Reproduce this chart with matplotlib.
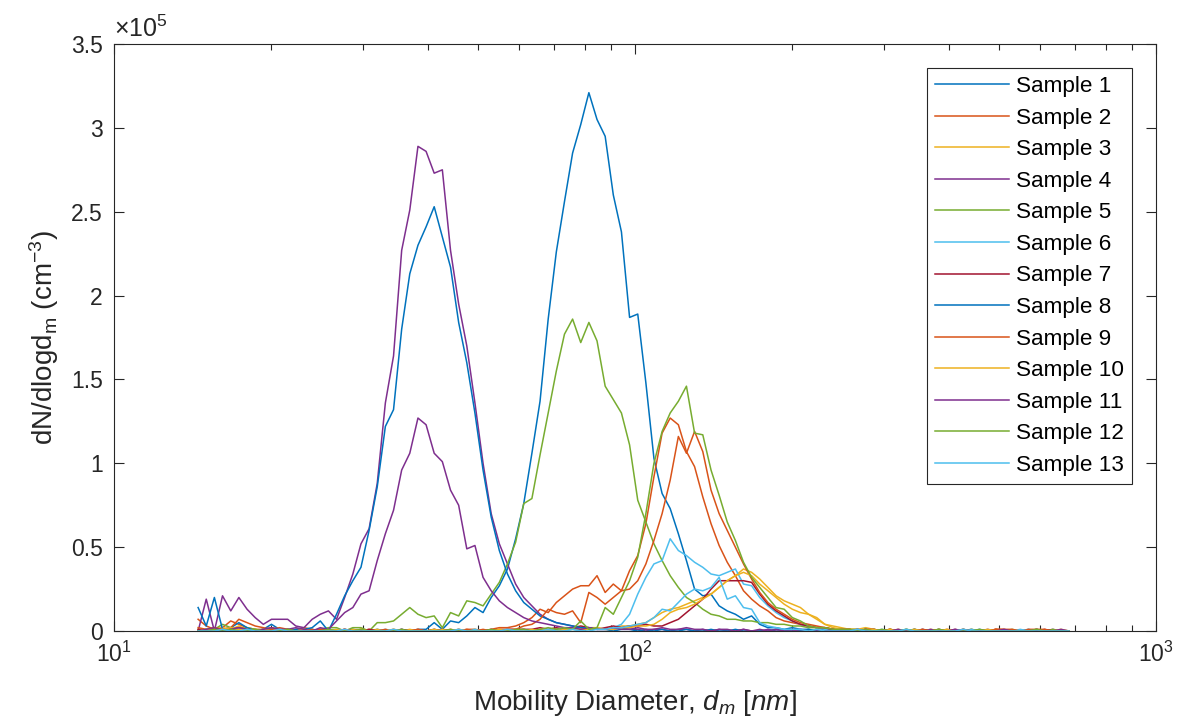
import matplotlib.pyplot as plt
from matplotlib.ticker import FuncFormatter, MultipleLocator

plt.rcParams['font.family'] = ['Liberation Sans', 'DejaVu Sans']
plt.rcParams['mathtext.fontset'] = 'custom'
plt.rcParams['mathtext.rm'] = 'Liberation Sans'
plt.rcParams['mathtext.it'] = 'Liberation Sans:italic'

##-------------- SMPS channel diameters (nm), 64 ch/decade --------------
dm = [14.50, 15.03, 15.58, 16.15, 16.75, 17.36, 18.00, 18.66, 19.34, 20.05,
      20.78, 21.54, 22.33, 23.15, 24.00, 24.88, 25.79, 26.73, 27.71, 28.73,
      29.78, 30.87, 32.00, 33.17, 34.39, 35.65, 36.95, 38.31, 39.71, 41.16,
      42.67, 44.24, 45.86, 47.54, 49.28, 51.08, 52.95, 54.89, 56.90, 58.99,
      61.15, 63.39, 65.71, 68.12, 70.61, 73.20, 75.88, 78.66, 81.54, 84.53,
      87.63, 90.84, 94.16, 97.61, 101.2, 104.9, 108.7, 112.7, 116.8, 121.1,
      125.5, 130.1, 134.9, 139.9, 145.0, 150.3, 155.8, 161.5, 167.4, 173.5,
      179.9, 186.5, 193.3, 200.4, 207.7, 215.3, 223.2, 231.4, 239.9, 248.7,
      257.8, 267.2, 277.0, 287.2, 297.7, 308.6, 319.9, 331.6, 343.8, 356.4,
      369.4, 382.9, 397.0, 411.5, 426.6, 442.2, 458.4, 475.2, 492.6, 510.7,
      529.4, 548.8, 568.9, 589.7, 611.3, 633.7, 656.9, 681.0]

##-------------- dN/dlogdm, units of 1e5 cm^-3 --------------
s1 = [0.00, 0.01, 0.00, 0.01, 0.00, 0.00, 0.01, 0.00, 0.00, 0.01,
      0.00, 0.01, 0.00, 0.00, 0.01, 0.00, 0.01, 0.00, 0.00, 0.01,
      0.00, 0.00, 0.01, 0.00, 0.00, 0.01, 0.00, 0.01, 0.01, 0.05,
      0.01, 0.06, 0.05, 0.09, 0.14, 0.11, 0.20, 0.27, 0.37, 0.55,
      0.76, 1.06, 1.37, 1.86, 2.26, 2.56, 2.85, 3.02, 3.21, 3.05,
      2.95, 2.60, 2.38, 1.87, 1.89, 1.48, 1.03, 0.82, 0.73, 0.58,
      0.42, 0.25, 0.21, 0.22, 0.15, 0.12, 0.10, 0.07, 0.09, 0.04,
      0.02, 0.02, 0.01, 0.02, 0.01, 0.01, 0.00, 0.01, 0.00, 0.00,
      0.01, 0.00, 0.00, 0.01, 0.00, 0.00, 0.00, 0.01, 0.00, 0.00,
      0.00, 0.01, 0.00, 0.00, 0.00, 0.00, 0.01, 0.00, 0.00, 0.00,
      0.00, 0.00, 0.01, 0.00, 0.00, 0.00, 0.00, 0.00]
s2 = [0.07, 0.03, 0.01, 0.02, 0.06, 0.04, 0.02, 0.01, 0.01, 0.02,
      0.01, 0.00, 0.01, 0.02, 0.01, 0.00, 0.01, 0.00, 0.01, 0.00,
      0.00, 0.01, 0.00, 0.00, 0.01, 0.00, 0.00, 0.01, 0.00, 0.00,
      0.01, 0.00, 0.00, 0.01, 0.01, 0.00, 0.01, 0.02, 0.02, 0.03,
      0.05, 0.08, 0.13, 0.11, 0.17, 0.21, 0.25, 0.27, 0.27, 0.33,
      0.23, 0.28, 0.24, 0.36, 0.45, 0.64, 0.92, 1.18, 1.27, 1.23,
      1.07, 0.98, 0.80, 0.64, 0.51, 0.41, 0.33, 0.24, 0.19, 0.15,
      0.12, 0.08, 0.06, 0.05, 0.04, 0.03, 0.02, 0.02, 0.01, 0.01,
      0.01, 0.00, 0.01, 0.00, 0.00, 0.01, 0.00, 0.00, 0.01, 0.00,
      0.00, 0.00, 0.01, 0.00, 0.00, 0.01, 0.00, 0.00, 0.01, 0.01,
      0.00, 0.00, 0.01, 0.01, 0.00, 0.00, 0.00, 0.00]
s3 = [0.01, 0.00, 0.01, 0.02, 0.01, 0.03, 0.01, 0.01, 0.00, 0.01,
      0.00, 0.01, 0.00, 0.01, 0.00, 0.00, 0.01, 0.00, 0.00, 0.01,
      0.00, 0.00, 0.01, 0.00, 0.00, 0.00, 0.01, 0.00, 0.00, 0.00,
      0.01, 0.00, 0.00, 0.00, 0.01, 0.00, 0.00, 0.01, 0.00, 0.00,
      0.01, 0.00, 0.01, 0.00, 0.01, 0.01, 0.02, 0.01, 0.02, 0.02,
      0.01, 0.02, 0.03, 0.03, 0.04, 0.05, 0.08, 0.11, 0.13, 0.14,
      0.16, 0.18, 0.20, 0.22, 0.26, 0.30, 0.33, 0.37, 0.35, 0.31,
      0.26, 0.21, 0.18, 0.16, 0.14, 0.10, 0.07, 0.04, 0.03, 0.02,
      0.01, 0.01, 0.02, 0.01, 0.00, 0.01, 0.00, 0.01, 0.00, 0.00,
      0.01, 0.00, 0.00, 0.00, 0.01, 0.00, 0.00, 0.00, 0.01, 0.00,
      0.00, 0.00, 0.00, 0.01, 0.00, 0.00, 0.00, 0.00]
s4 = [0.00, 0.19, 0.00, 0.21, 0.12, 0.20, 0.13, 0.08, 0.04, 0.07,
      0.07, 0.07, 0.03, 0.02, 0.07, 0.10, 0.12, 0.07, 0.20, 0.34,
      0.52, 0.61, 0.88, 1.36, 1.64, 2.27, 2.51, 2.89, 2.86, 2.73,
      2.75, 2.27, 1.95, 1.70, 1.36, 1.00, 0.70, 0.52, 0.40, 0.28,
      0.20, 0.15, 0.10, 0.07, 0.05, 0.04, 0.03, 0.02, 0.02, 0.01,
      0.01, 0.01, 0.02, 0.01, 0.01, 0.00, 0.01, 0.01, 0.00, 0.01,
      0.01, 0.00, 0.01, 0.00, 0.01, 0.00, 0.00, 0.01, 0.00, 0.00,
      0.01, 0.00, 0.00, 0.01, 0.00, 0.00, 0.00, 0.00, 0.01, 0.00,
      0.00, 0.00, 0.00, 0.01, 0.00, 0.00, 0.00, 0.00, 0.00, 0.00,
      0.01, 0.00, 0.00, 0.00, 0.00, 0.00, 0.00, 0.01, 0.00, 0.00,
      0.00, 0.00, 0.00, 0.00, 0.00, 0.01, 0.00, 0.00]
s5 = [0.00, 0.01, 0.01, 0.04, 0.02, 0.01, 0.02, 0.01, 0.00, 0.01,
      0.00, 0.01, 0.00, 0.01, 0.00, 0.01, 0.02, 0.02, 0.00, 0.02,
      0.02, 0.00, 0.05, 0.05, 0.06, 0.10, 0.14, 0.10, 0.08, 0.09,
      0.02, 0.11, 0.09, 0.18, 0.17, 0.15, 0.22, 0.29, 0.40, 0.53,
      0.76, 0.79, 1.05, 1.30, 1.55, 1.77, 1.86, 1.72, 1.84, 1.73,
      1.46, 1.38, 1.30, 1.11, 0.78, 0.65, 0.52, 0.42, 0.33, 0.26,
      0.20, 0.17, 0.13, 0.10, 0.09, 0.07, 0.07, 0.06, 0.06, 0.05,
      0.05, 0.04, 0.04, 0.03, 0.03, 0.02, 0.02, 0.02, 0.01, 0.01,
      0.01, 0.01, 0.00, 0.01, 0.00, 0.01, 0.00, 0.00, 0.01, 0.00,
      0.00, 0.01, 0.00, 0.00, 0.00, 0.01, 0.00, 0.00, 0.00, 0.00,
      0.01, 0.00, 0.00, 0.00, 0.00, 0.01, 0.00, 0.00]
s6 = [0.00, 0.01, 0.00, 0.00, 0.01, 0.00, 0.00, 0.00, 0.01, 0.00,
      0.00, 0.00, 0.01, 0.00, 0.00, 0.00, 0.00, 0.01, 0.00, 0.00,
      0.00, 0.00, 0.00, 0.01, 0.00, 0.00, 0.00, 0.00, 0.00, 0.01,
      0.00, 0.00, 0.00, 0.00, 0.01, 0.00, 0.00, 0.00, 0.00, 0.00,
      0.01, 0.00, 0.00, 0.00, 0.01, 0.00, 0.01, 0.00, 0.01, 0.01,
      0.01, 0.02, 0.04, 0.10, 0.22, 0.32, 0.40, 0.42, 0.55, 0.48,
      0.45, 0.41, 0.38, 0.34, 0.33, 0.35, 0.37, 0.28, 0.27, 0.20,
      0.15, 0.11, 0.08, 0.06, 0.04, 0.03, 0.02, 0.01, 0.01, 0.01,
      0.00, 0.01, 0.00, 0.00, 0.01, 0.00, 0.00, 0.00, 0.00, 0.01,
      0.00, 0.00, 0.00, 0.00, 0.00, 0.01, 0.00, 0.00, 0.00, 0.00,
      0.00, 0.01, 0.00, 0.00, 0.00, 0.00, 0.00, 0.00]
s7 = [0.01, 0.00, 0.01, 0.00, 0.01, 0.02, 0.01, 0.00, 0.01, 0.00,
      0.01, 0.00, 0.00, 0.01, 0.00, 0.01, 0.00, 0.00, 0.01, 0.00,
      0.00, 0.01, 0.00, 0.00, 0.00, 0.01, 0.00, 0.00, 0.00, 0.01,
      0.00, 0.00, 0.01, 0.00, 0.00, 0.00, 0.01, 0.00, 0.01, 0.01,
      0.01, 0.01, 0.02, 0.01, 0.02, 0.01, 0.02, 0.03, 0.02, 0.01,
      0.02, 0.03, 0.02, 0.03, 0.03, 0.04, 0.03, 0.03, 0.05, 0.07,
      0.11, 0.15, 0.19, 0.25, 0.30, 0.30, 0.30, 0.30, 0.29, 0.22,
      0.16, 0.12, 0.09, 0.06, 0.04, 0.03, 0.02, 0.02, 0.01, 0.01,
      0.01, 0.00, 0.01, 0.00, 0.00, 0.01, 0.00, 0.00, 0.00, 0.01,
      0.00, 0.00, 0.00, 0.01, 0.00, 0.00, 0.00, 0.00, 0.01, 0.00,
      0.00, 0.00, 0.00, 0.00, 0.01, 0.00, 0.00, 0.00]
s8 = [0.14, 0.03, 0.20, 0.01, 0.02, 0.05, 0.02, 0.00, 0.01, 0.04,
      0.01, 0.00, 0.01, 0.01, 0.02, 0.06, 0.00, 0.10, 0.21, 0.30,
      0.38, 0.60, 0.86, 1.22, 1.32, 1.80, 2.13, 2.30, 2.41, 2.53,
      2.35, 2.17, 1.84, 1.60, 1.30, 0.96, 0.68, 0.48, 0.34, 0.24,
      0.17, 0.13, 0.09, 0.07, 0.05, 0.04, 0.03, 0.02, 0.02, 0.01,
      0.01, 0.00, 0.01, 0.01, 0.00, 0.01, 0.00, 0.01, 0.00, 0.00,
      0.01, 0.00, 0.00, 0.01, 0.00, 0.00, 0.01, 0.00, 0.00, 0.00,
      0.00, 0.01, 0.00, 0.00, 0.00, 0.01, 0.00, 0.00, 0.00, 0.00,
      0.00, 0.00, 0.01, 0.00, 0.00, 0.00, 0.00, 0.00, 0.01, 0.00,
      0.00, 0.00, 0.00, 0.00, 0.01, 0.00, 0.00, 0.00, 0.00, 0.00,
      0.00, 0.00, 0.00, 0.01, 0.00, 0.00, 0.00, 0.00]
s9 = [0.02, 0.01, 0.02, 0.01, 0.02, 0.07, 0.05, 0.03, 0.02, 0.01,
      0.02, 0.01, 0.00, 0.01, 0.00, 0.01, 0.00, 0.00, 0.01, 0.00,
      0.01, 0.00, 0.00, 0.01, 0.00, 0.00, 0.00, 0.01, 0.00, 0.00,
      0.00, 0.01, 0.00, 0.01, 0.00, 0.01, 0.00, 0.01, 0.01, 0.01,
      0.03, 0.04, 0.07, 0.13, 0.11, 0.10, 0.12, 0.05, 0.23, 0.20,
      0.16, 0.20, 0.24, 0.25, 0.30, 0.40, 0.54, 0.70, 0.90, 1.16,
      1.06, 1.19, 1.07, 0.84, 0.70, 0.60, 0.50, 0.40, 0.31, 0.23,
      0.17, 0.13, 0.10, 0.07, 0.05, 0.04, 0.03, 0.02, 0.01, 0.01,
      0.01, 0.00, 0.01, 0.01, 0.00, 0.00, 0.01, 0.00, 0.00, 0.01,
      0.00, 0.01, 0.00, 0.00, 0.01, 0.00, 0.00, 0.00, 0.01, 0.01,
      0.01, 0.00, 0.00, 0.01, 0.01, 0.00, 0.00, 0.00]
s10 = [0.00, 0.01, 0.00, 0.01, 0.02, 0.01, 0.01, 0.00, 0.01, 0.00,
       0.01, 0.00, 0.00, 0.01, 0.00, 0.00, 0.00, 0.01, 0.00, 0.00,
       0.01, 0.00, 0.00, 0.00, 0.01, 0.00, 0.00, 0.00, 0.00, 0.01,
       0.00, 0.00, 0.01, 0.00, 0.00, 0.00, 0.00, 0.01, 0.00, 0.00,
       0.00, 0.01, 0.00, 0.01, 0.00, 0.01, 0.01, 0.01, 0.01, 0.02,
       0.01, 0.01, 0.02, 0.02, 0.03, 0.03, 0.04, 0.07, 0.11, 0.13,
       0.14, 0.16, 0.19, 0.22, 0.26, 0.30, 0.33, 0.35, 0.33, 0.28,
       0.24, 0.20, 0.16, 0.13, 0.11, 0.10, 0.08, 0.04, 0.02, 0.01,
       0.01, 0.01, 0.00, 0.01, 0.00, 0.01, 0.00, 0.00, 0.01, 0.00,
       0.00, 0.00, 0.01, 0.00, 0.00, 0.00, 0.00, 0.01, 0.00, 0.00,
       0.00, 0.00, 0.00, 0.00, 0.00, 0.00, 0.01, 0.00]
s11 = [0.00, 0.01, 0.02, 0.00, 0.01, 0.02, 0.01, 0.00, 0.01, 0.02,
       0.01, 0.01, 0.02, 0.01, 0.00, 0.02, 0.01, 0.06, 0.11, 0.14,
       0.22, 0.24, 0.42, 0.58, 0.72, 0.96, 1.06, 1.27, 1.23, 1.06,
       1.01, 0.84, 0.75, 0.49, 0.51, 0.32, 0.24, 0.18, 0.14, 0.11,
       0.08, 0.06, 0.05, 0.04, 0.03, 0.02, 0.02, 0.01, 0.02, 0.01,
       0.01, 0.02, 0.01, 0.01, 0.02, 0.01, 0.01, 0.02, 0.01, 0.01,
       0.02, 0.01, 0.01, 0.00, 0.01, 0.01, 0.00, 0.01, 0.00, 0.01,
       0.00, 0.01, 0.00, 0.00, 0.01, 0.00, 0.00, 0.00, 0.01, 0.00,
       0.00, 0.01, 0.00, 0.00, 0.00, 0.00, 0.01, 0.00, 0.00, 0.00,
       0.00, 0.00, 0.00, 0.01, 0.00, 0.00, 0.00, 0.00, 0.00, 0.01,
       0.00, 0.00, 0.00, 0.00, 0.00, 0.00, 0.01, 0.00]
s12 = [0.00, 0.00, 0.01, 0.00, 0.01, 0.00, 0.00, 0.01, 0.00, 0.00,
       0.00, 0.01, 0.00, 0.00, 0.00, 0.00, 0.01, 0.00, 0.00, 0.00,
       0.01, 0.00, 0.00, 0.00, 0.00, 0.01, 0.00, 0.00, 0.00, 0.00,
       0.00, 0.01, 0.00, 0.00, 0.00, 0.00, 0.01, 0.00, 0.00, 0.01,
       0.01, 0.00, 0.01, 0.02, 0.01, 0.02, 0.01, 0.06, 0.01, 0.02,
       0.14, 0.10, 0.20, 0.30, 0.44, 0.70, 1.00, 1.19, 1.30, 1.37,
       1.46, 1.18, 1.17, 0.96, 0.81, 0.65, 0.54, 0.41, 0.32, 0.26,
       0.20, 0.14, 0.13, 0.08, 0.06, 0.03, 0.02, 0.02, 0.01, 0.01,
       0.01, 0.00, 0.01, 0.00, 0.01, 0.00, 0.00, 0.01, 0.00, 0.00,
       0.00, 0.01, 0.00, 0.00, 0.00, 0.00, 0.01, 0.00, 0.00, 0.00,
       0.00, 0.00, 0.00, 0.01, 0.00, 0.00, 0.00, 0.00]
s13 = [0.00, 0.00, 0.00, 0.01, 0.00, 0.00, 0.01, 0.00, 0.00, 0.00,
       0.01, 0.00, 0.00, 0.00, 0.00, 0.00, 0.00, 0.00, 0.01, 0.00,
       0.00, 0.00, 0.00, 0.00, 0.01, 0.00, 0.00, 0.00, 0.00, 0.00,
       0.00, 0.00, 0.01, 0.00, 0.00, 0.00, 0.00, 0.00, 0.01, 0.00,
       0.00, 0.00, 0.00, 0.01, 0.00, 0.00, 0.01, 0.00, 0.00, 0.01,
       0.01, 0.02, 0.02, 0.03, 0.04, 0.05, 0.08, 0.13, 0.12, 0.17,
       0.22, 0.25, 0.24, 0.26, 0.32, 0.19, 0.21, 0.14, 0.13, 0.05,
       0.03, 0.02, 0.01, 0.01, 0.01, 0.00, 0.01, 0.00, 0.00, 0.00,
       0.00, 0.01, 0.00, 0.00, 0.00, 0.00, 0.00, 0.01, 0.00, 0.00,
       0.00, 0.00, 0.00, 0.00, 0.01, 0.00, 0.00, 0.00, 0.00, 0.00,
       0.00, 0.00, 0.00, 0.00, 0.00, 0.00, 0.00, 0.00]

samples = [s1, s2, s3, s4, s5, s6, s7, s8, s9, s10, s11, s12, s13]
labels = ['Sample %d' % (k + 1) for k in range(len(samples))]
# matlab default line colour order
colors = ['#0072BD', '#D95319', '#EDB120', '#7E2F8E', '#77AC30', '#4DBEEE', '#A2142F']

fig = plt.figure(figsize=(11.77, 7.22), dpi=100)
ax = fig.add_axes([0.0969, 0.1260, 0.8853, 0.8130])

for k, s in enumerate(samples):
    ax.plot(dm, [v * 1e5 for v in s], color=colors[k % 7], lw=1.1, label=labels[k])

ax.set_xscale('log')
ax.set_xlim(10, 1000)
ax.set_ylim(0, 3.5e5)
ax.yaxis.set_major_locator(MultipleLocator(0.5e5))
ax.yaxis.set_major_formatter(FuncFormatter(lambda v, p: '%g' % (v / 1e5)))

axcol = '#262626'
ax.tick_params(which='both', direction='in', top=True, right=True,
               labelsize=16.5, color=axcol, labelcolor=axcol, width=0.8)
ax.tick_params(which='major', length=7, pad=8)
ax.tick_params(which='minor', length=4)
for sp in ax.spines.values():
    sp.set_color(axcol)
    sp.set_linewidth(0.8)

ax.text(0.0, 1.004, u'\u00d710$^{5}$', transform=ax.transAxes, fontsize=18,
        ha='left', va='bottom', color=axcol)
ax.set_xlabel(r'Mobility Diameter, $d_m$ $[nm]$', fontsize=20, color=axcol, labelpad=15)
ax.set_ylabel(r'dN/dlogd$_\mathrm{m}$ (cm$^{-3}$)', fontsize=20, color=axcol, labelpad=7)

leg = ax.legend(loc='upper right', bbox_to_anchor=(0.977, 0.959), borderaxespad=0,
                fontsize=16.2, frameon=True, fancybox=False, framealpha=1,
                edgecolor=axcol, handlelength=3.3, handletextpad=0.3,
                labelspacing=0.47, borderpad=0.35)
leg.get_frame().set_linewidth(0.8)

plt.savefig('out.png', dpi=100)
